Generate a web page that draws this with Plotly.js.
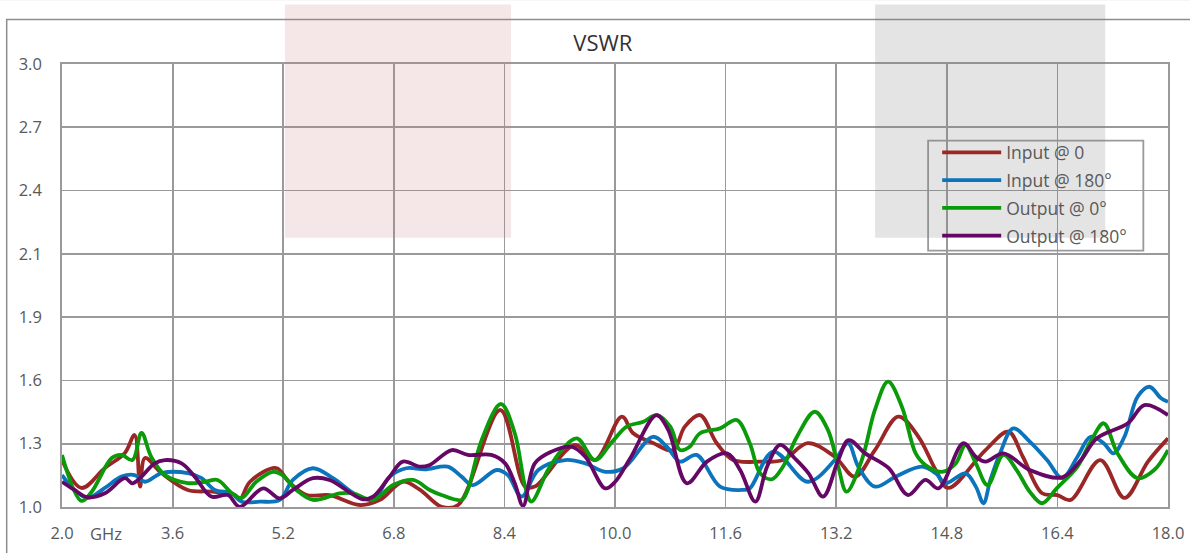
<!DOCTYPE html>
<html>
<head>
<meta charset="utf-8">
<script src="https://cdn.plot.ly/plotly-3.0.1.min.js"></script>
<style>html,body{margin:0;padding:0;background:#fff;}#chart{width:1190px;height:553px;}</style>
</head>
<body>
<div id="chart"></div>
<script>
// ---- data (frequency in GHz, VSWR) ----
const seriesNames = ['Input @ 0', 'Input @ 180°', 'Output @ 0°', 'Output @ 180°'];

const inp0F = [2.0,2.28,2.62,2.91,3.05,3.13,3.20,3.44,3.82,4.17,4.50,4.57,4.72,5.10,5.28,5.54,5.87,6.31,6.60,6.93,7.18,7.49,7.73,8.34,8.70,8.84,9.42,9.71,10.10,10.26,10.55,10.84,11.01,11.23,11.47,11.71,12.10,12.43,12.79,13.18,13.47,13.76,14.10,14.39,14.64,14.82,15.36,15.69,15.90,16.18,16.40,16.59,17.02,17.37,17.71,18.0];
const inp0V = [1.212,1.086,1.176,1.244,1.325,1.092,1.221,1.153,1.077,1.069,1.054,1.032,1.114,1.176,1.114,1.054,1.054,1.009,1.032,1.114,1.077,1.001,1.009,1.438,1.092,1.092,1.280,1.212,1.408,1.334,1.289,1.257,1.363,1.415,1.289,1.212,1.205,1.212,1.288,1.227,1.137,1.257,1.408,1.317,1.167,1.086,1.257,1.340,1.227,1.062,1.054,1.032,1.212,1.041,1.205,1.310];

const inp180F = [2.0,2.18,2.37,2.62,2.86,3.05,3.20,3.44,3.82,4.02,4.21,4.45,4.60,4.86,5.15,5.34,5.63,5.92,6.26,6.50,6.74,6.98,7.25,7.58,7.78,7.94,8.29,8.45,8.65,8.89,9.28,9.57,9.86,10.12,10.55,10.75,10.94,11.18,11.52,11.85,11.95,12.29,12.79,13.18,13.37,13.52,13.76,14.06,14.44,14.64,14.78,15.07,15.22,15.33,15.43,15.57,15.76,16.00,16.25,16.47,16.69,16.88,17.07,17.21,17.37,17.56,17.73,17.90,18.0];
const inp180V = [1.144,1.077,1.041,1.086,1.137,1.144,1.114,1.153,1.153,1.130,1.077,1.062,1.024,1.024,1.032,1.122,1.175,1.130,1.054,1.032,1.137,1.175,1.170,1.182,1.137,1.099,1.167,1.144,1.047,1.167,1.212,1.197,1.159,1.175,1.317,1.272,1.205,1.235,1.092,1.077,1.084,1.250,1.114,1.212,1.288,1.182,1.092,1.137,1.182,1.152,1.107,1.152,1.092,1.017,1.122,1.242,1.355,1.295,1.212,1.130,1.227,1.317,1.288,1.242,1.317,1.498,1.543,1.491,1.475];

const out0F = [2.0,2.28,2.43,2.72,2.86,3.02,3.15,3.29,3.49,3.82,4.07,4.25,4.46,4.60,4.81,5.05,5.19,5.39,5.63,6.02,6.21,6.50,6.79,7.08,7.32,7.49,7.78,7.87,8.07,8.35,8.55,8.70,8.79,9.03,9.23,9.45,9.71,9.96,10.17,10.41,10.60,10.80,10.94,11.08,11.23,11.52,11.76,11.95,12.10,12.27,12.43,12.63,12.89,13.08,13.23,13.35,13.57,13.76,13.95,14.15,14.35,14.49,14.73,14.93,15.07,15.22,15.39,15.62,15.81,16.00,16.18,16.39,16.69,16.88,17.07,17.27,17.56,17.80,18.0];
const out0V = [1.235,1.028,1.069,1.221,1.235,1.212,1.335,1.227,1.144,1.108,1.114,1.122,1.062,1.041,1.114,1.159,1.144,1.077,1.032,1.062,1.062,1.032,1.099,1.122,1.077,1.054,1.032,1.077,1.302,1.465,1.333,1.092,1.024,1.167,1.257,1.310,1.212,1.295,1.363,1.385,1.415,1.363,1.257,1.272,1.333,1.355,1.393,1.288,1.152,1.125,1.182,1.316,1.430,1.348,1.182,1.069,1.212,1.438,1.566,1.453,1.242,1.190,1.159,1.197,1.280,1.197,1.099,1.235,1.167,1.069,1.017,1.084,1.182,1.295,1.378,1.242,1.130,1.167,1.257];

const out180F = [2.0,2.18,2.37,2.62,2.91,3.02,3.15,3.34,3.49,3.73,3.92,4.16,4.40,4.57,4.91,5.15,5.34,5.63,5.87,6.35,6.50,6.74,6.93,7.18,7.32,7.64,7.87,8.21,8.41,8.55,8.67,8.84,9.08,9.37,9.57,9.86,10.0,10.22,10.60,10.77,11.04,11.33,11.62,11.81,12.03,12.20,12.39,12.60,12.80,13.01,13.23,13.38,13.62,13.96,14.24,14.49,14.68,15.04,15.22,15.36,15.62,16.00,16.47,16.74,16.97,17.42,17.66,18.0];
const out180V = [1.114,1.077,1.044,1.062,1.130,1.107,1.137,1.197,1.212,1.197,1.137,1.047,1.054,1.001,1.084,1.039,1.077,1.130,1.122,1.035,1.047,1.137,1.205,1.182,1.190,1.257,1.235,1.235,1.197,1.107,1.005,1.197,1.250,1.272,1.227,1.084,1.113,1.220,1.415,1.348,1.107,1.205,1.242,1.167,1.024,1.182,1.280,1.220,1.152,1.047,1.212,1.302,1.242,1.175,1.054,1.122,1.084,1.288,1.227,1.205,1.242,1.167,1.134,1.212,1.310,1.378,1.460,1.415];

const xTickLabels = ['2.0','3.6','5.2','6.8','8.4','10.0','11.6','13.2','14.8','16.4','18.0'];
const yTickLabels = ['1.0','1.3','1.6','1.9','2.1','2.4','2.7','3.0'];

// ---- styling ----
const colors = ['#9A2726', '#0B74BC', '#0A9A0A', '#650865'];
const xs = [inp0F, inp180F, out0F, out180F];
const ys = [inp0V, inp180V, out0V, out180V];

const traces = seriesNames.map((n, i) => ({
  type: 'scatter', mode: 'lines', name: n, legendgroup: 'g' + i,
  x: xs[i], y: ys[i],
  line: {color: colors[i], width: 3.8, shape: 'spline', smoothing: 1}
}));

const gridC = '#9a9a9c';
const tickFont = {family: 'Open Sans, sans-serif', size: 16.5, color: '#595959'};

const layout = {
  width: 1190, height: 553,
  margin: {l: 62, r: 22, t: 64, b: 46, pad: 0},
  paper_bgcolor: '#ffffff', plot_bgcolor: '#ffffff',
  showlegend: true,
  title: {text: 'VSWR', font: {family: 'Open Sans, sans-serif', size: 22, color: '#333333'},
          x: 0.489, xref: 'paper', xanchor: 'center', y: 0.921, yref: 'container', yanchor: 'middle'},
  xaxis: {
    range: [2, 18], tickmode: 'array',
    tickvals: xTickLabels.map(Number), ticktext: xTickLabels,
    showgrid: true, gridcolor: gridC, gridwidth: 1.8,
    showline: true, mirror: true, linecolor: gridC, linewidth: 1.8,
    zeroline: false, ticks: 'outside', ticklen: 10, tickcolor: 'rgba(0,0,0,0)',
    tickfont: tickFont, fixedrange: true
  },
  yaxis: {
    range: [1, 3], tickmode: 'array',
    tickvals: yTickLabels.map((t, i) => 1 + i * 2 / 7), ticktext: yTickLabels,
    showgrid: true, gridcolor: gridC, gridwidth: 1.8,
    showline: true, mirror: true, linecolor: gridC, linewidth: 1.8,
    zeroline: false, ticks: 'outside', ticklen: 15, tickcolor: 'rgba(0,0,0,0)',
    tickfont: tickFont, fixedrange: true
  },
  legend: {
    x: 0.7913, y: 0.8407, xanchor: 'left', yanchor: 'top',
    bgcolor: 'rgba(0,0,0,0)', borderwidth: 0,
    font: {family: 'Open Sans, sans-serif', size: 17.5, color: '#595959'},
    itemwidth: 59, tracegroupgap: 2
  },
  shapes: [
    {type: 'line', xref: 'paper', yref: 'paper', x0: -0.1, x1: 1.1, y0: 1.1446, y1: 1.1446,
     line: {color: '#eeeeee', width: 1}, layer: 'below'},
    {type: 'rect', xref: 'paper', yref: 'paper', x0: -0.050, x1: 1.2, y0: -0.3, y1: 1.1006,
     line: {color: '#8e8e8e', width: 1.5}, fillcolor: 'rgba(0,0,0,0)', layer: 'below'},
    {type: 'rect', xref: 'paper', yref: 'paper', x0: 0.7831, x1: 0.9777, y0: 0.5785, y1: 0.8271,
     line: {color: '#9a9a9c', width: 1.8}, fillcolor: 'rgba(0,0,0,0)', layer: 'above'},
    {type: 'rect', xref: 'paper', yref: 'paper', x0: 0.2015, x1: 0.406, y0: 0.6079, y1: 1.1345,
     line: {width: 0}, fillcolor: 'rgba(200,120,120,0.18)', layer: 'above'},
    {type: 'rect', xref: 'paper', yref: 'paper', x0: 0.7352, x1: 0.9433, y0: 0.6079, y1: 1.1345,
     line: {width: 0}, fillcolor: 'rgba(120,120,120,0.2)', layer: 'above'}
  ],
  annotations: [
    {text: 'GHz', xref: 'paper', yref: 'paper', x: 0.0395, y: -0.0588, xanchor: 'center', yanchor: 'middle',
     showarrow: false, font: tickFont}
  ]
};

Plotly.newPlot('chart', traces, layout, {staticPlot: true, displayModeBar: false});
</script>
</body>
</html>
